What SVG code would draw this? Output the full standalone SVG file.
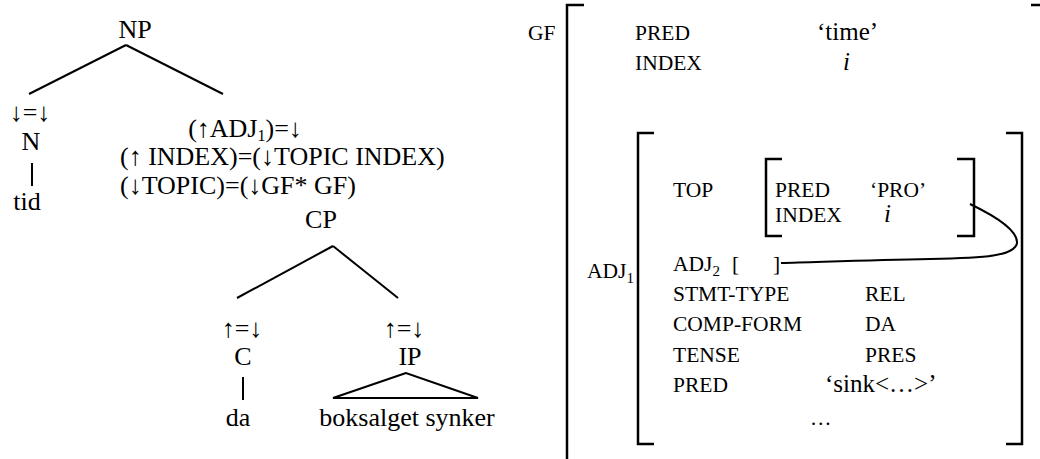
<svg xmlns="http://www.w3.org/2000/svg" width="1040" height="459" viewBox="0 0 1040 459" font-family="'Liberation Serif', 'DejaVu Serif', serif">
<style>
text{font-family:'Liberation Serif','DejaVu Serif',serif;fill:#000}
.t{font-size:26px}
.f{font-size:21.5px}
.v{font-size:25px}
.m{text-anchor:middle}
.i{font-style:italic}
.ln{stroke:#000;stroke-width:2;fill:none}
.br{stroke:#000;stroke-width:2.5;fill:none}
</style>
<rect width="1040" height="459" fill="#fff"/>
<g id="connectors">
<line class="ln" x1="126" y1="45" x2="29" y2="94"/>
<line class="ln" x1="126" y1="45" x2="223" y2="94"/>
<line class="ln" x1="32" y1="163" x2="32" y2="186"/>
<line class="ln" x1="333" y1="246" x2="237" y2="298"/>
<line class="ln" x1="333" y1="246" x2="398" y2="298"/>
<line class="ln" x1="243" y1="377" x2="243" y2="400"/>
<path class="ln" d="M970 204 C995 216 1018 230 1017 243 C1015 256 985 258 930 259 C870 260 820 262 781 263"/>
</g>
<g id="NP"><text class="t m" x="135" y="38">NP</text></g>
<g id="N"><text class="t m" x="30" y="121">↓︎=↓︎</text><text class="t m" x="31" y="150">N</text></g>
<g id="tid"><text class="t m" x="27" y="210">tid</text></g>
<g id="annot">
<text class="t m" x="245" y="137">(↑︎ADJ<tspan font-size="16" dy="4">1</tspan><tspan dy="-4">)=↓︎</tspan></text>
<text class="t" x="120" y="165">(↑︎ INDEX)=(↓︎TOPIC INDEX)</text>
<text class="t" x="120" y="194">(↓︎TOPIC)=(↓︎GF* GF)</text>
</g>
<g id="CP"><text class="t m" x="321" y="228">CP</text></g>
<g id="C"><text class="t m" x="242" y="337">↑︎=↓︎</text><text class="t m" x="243" y="365">C</text></g>
<g id="da"><text class="t m" x="238" y="426">da</text></g>
<g id="IP"><text class="t m" x="404" y="337">↑︎=↓︎</text><text class="t m" x="410" y="365">IP</text></g>
<g id="IPtri"><polygon class="ln" points="406,373 333,398 478,398"/><text class="t m" x="407" y="426">boksalget synker</text></g>
<g id="fstructure">
<text class="f" x="528" y="40">GF</text>
<path class="br" d="M584 5 H567 V459"/>
<line class="br" x1="1031" y1="5" x2="1040" y2="5"/>
<text class="f" x="635" y="40">PRED</text>
<text class="v" x="817" y="40">‘time’</text>
<text class="f" x="635" y="70">INDEX</text>
<text class="v i" x="843" y="70">i</text>
<path class="br" d="M654 133 H638 V444 H654"/>
<path class="br" d="M1006 133 H1022 V444 H1006"/>
<text class="f" x="587" y="278">ADJ<tspan font-size="15" dy="5">1</tspan></text>
<text class="f" x="673" y="197">TOP</text>
<path class="br" d="M782 159 H766 V236 H782"/>
<path class="br" d="M957 159 H974 V236 H957"/>
<text class="f" x="775" y="197">PRED</text>
<text class="f" x="870" y="197">‘PRO’</text>
<text class="f" x="775" y="222">INDEX</text>
<text class="v i" x="884" y="222">i</text>
<text class="f" x="673" y="271">ADJ<tspan font-size="15" dy="5">2</tspan><tspan dy="-5" x="732">[</tspan><tspan x="773">]</tspan></text>
<text class="f" x="673" y="301">STMT-TYPE</text><text class="f" x="865" y="301">REL</text>
<text class="f" x="673" y="331">COMP-FORM</text><text class="f" x="865" y="331">DA</text>
<text class="f" x="673" y="362">TENSE</text><text class="f" x="865" y="362">PRES</text>
<text class="f" x="673" y="392">PRED</text><text class="v" x="825" y="392">‘sink&lt;…&gt;’</text>
<text class="f" x="810" y="425">…</text>
</g>
</svg>
